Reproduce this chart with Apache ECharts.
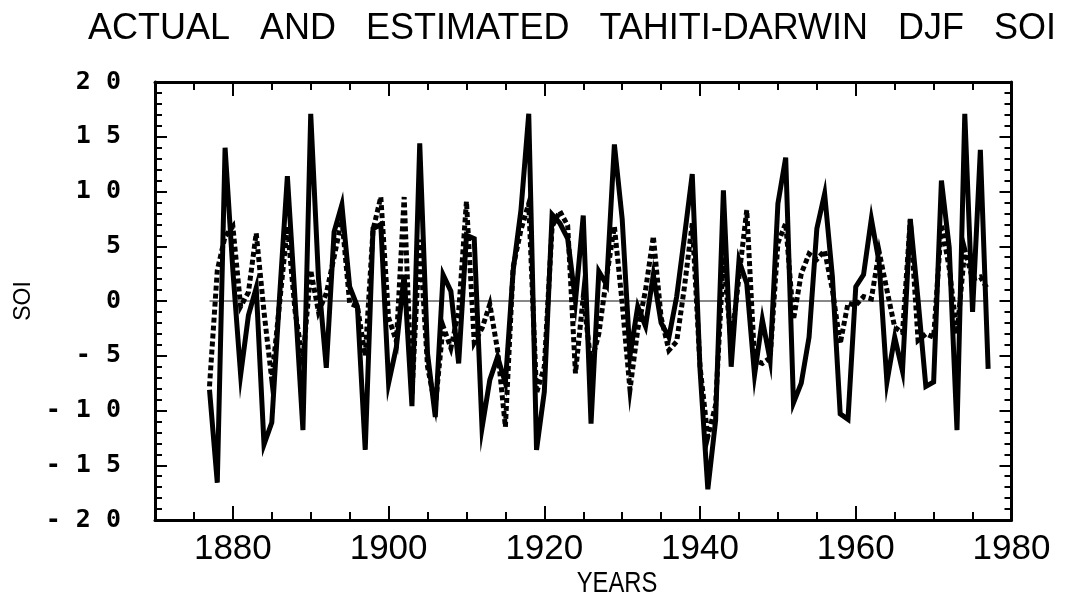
<!DOCTYPE html>
<html>
<head>
<meta charset="utf-8">
<script src="https://cdn.jsdelivr.net/npm/echarts@6/dist/echarts.min.js"></script>
<style>
html,body{margin:0;padding:0;background:#fff;}
#chart{width:1075px;height:599px;}
</style>
</head>
<body>
<div id="chart"></div>
<script>
const titleText = 'ACTUAL   AND   ESTIMATED   TAHITI-DARWIN   DJF   SOI';
const xAxisName = 'YEARS';
const yAxisName = 'SOI';

const years = [
  1877,1878,1879,1880,1881,1882,1883,1884,1885,1886,1887,1888,1889,
  1890,1891,1892,1893,1894,1895,1896,1897,1898,1899,1900,1901,1902,1903,
  1904,1905,1906,1907,1908,1909,1910,1911,1912,1913,1914,1915,1916,1917,1918,1919,
  1920,1921,1922,1923,1924,1925,1926,1927,1928,1929,1930,1931,1932,1933,1934,1935,
  1936,1937,1938,1939,1940,1941,1942,
  1943,1944,1945,1946,1947,1948,1949,1950,1951,1952,1953,1954,1955,1956,1957,1958,
  1959,1960,1961,1962,1963,1964,1965,1966,1967,1968,1969,1970,1971,1972,1973,1974,
  1975,1976,1977
];

const actualSOI = [
  -8.1,-16.6,14.0,2.8,-6.75,-1.3,1.2,-13.1,-11.1,0.4,11.4,0.0,-11.8,
  17.1,2.0,-6.1,6.3,8.8,1.3,-0.5,-13.6,6.6,7.0,-7.5,-4.2,2.4,-9.6,
  14.4,-4.8,-10.6,2.4,0.9,-5.7,6.0,5.7,-11.6,-7.2,-5.1,-7.5,2.8,8.3,17.1,-13.6,
  -8.3,7.9,7.1,5.7,0.0,7.8,-11.2,2.7,1.5,14.3,7.5,-5.0,-0.5,-2.3,2.4,-2.0,
  -3.3,0.4,5.9,11.6,-6.3,-17.2,-10.9,
  10.1,-6.0,3.7,1.6,-6.75,-1.7,-5.4,8.9,13.1,-9.3,-7.5,-3.3,6.6,9.8,2.2,-10.3,
  -10.8,1.3,2.4,7.5,3.5,-7.4,-3.3,-6.4,7.5,0.1,-7.8,-7.4,11.0,4.9,-11.8,17.1,
  -1.0,13.8,-6.2
];

const estimatedSOI = [
  -7.8,2.8,5.9,6.8,-0.5,0.8,6.2,-1.0,-7.2,-0.2,6.8,-1.0,-5.4,
  2.8,-1.0,0.7,4.0,7.5,-0.2,-0.5,-5.0,6.5,9.5,-1.5,-3.7,9.5,-8.5,
  5.6,-6.0,-9.6,-2.3,-4.3,-1.0,9.1,-3.8,-2.5,-0.3,-4.5,-11.5,3.1,6.5,8.9,-8.4,
  -6.0,6.8,8.2,6.9,-6.6,0.4,-5.7,-3.0,2.2,6.8,-0.2,-8.1,-2.6,1.0,5.9,-1.5,
  -4.5,-3.7,1.3,7.1,-6.0,-12.4,-9.5,
  4.0,-3.9,2.2,8.3,-5.4,-5.7,-5.2,5.3,7.1,-1.7,2.5,4.3,3.8,4.6,1.0,-3.9,
  -0.2,-0.4,0.4,0.2,4.5,1.0,-2.4,-2.9,7.4,-3.6,-3.0,-3.3,7.0,3.0,-3.0,4.7,
  2.0,2.2,1.0
];

const xMin = 1870, xMax = 1980, xMinorStep = 5;
const xLabelStart = 1880, xMajorStep = 20;
const yMin = -20, yMax = 20, yStep = 5;

const chart = echarts.init(document.getElementById('chart'), null, {renderer: 'canvas'});

const plot = {left: 155, top: 82, width: 856.5, height: 438};
const pxPerYear = plot.width / (xMax - xMin);
const majorLeft = plot.left + (xLabelStart - xMin) * pxPerYear;
const majorGrid = {left: majorLeft, top: plot.top, width: plot.left + plot.width - majorLeft, height: plot.height};

const lineCol = '#000';
const baseX = {
  type: 'value', min: xMin, max: xMax, interval: xMinorStep,
  axisLine: {show: true, onZero: false, lineStyle: {color: lineCol, width: 3}},
  axisTick: {show: true, inside: true, length: 8, lineStyle: {color: lineCol, width: 2}},
  axisLabel: {show: false},
  splitLine: {show: false}
};
const majorX = {
  type: 'value', min: xLabelStart, max: xMax, interval: xMajorStep,
  axisLine: {show: false, onZero: false},
  axisTick: {show: true, inside: true, length: 14, lineStyle: {color: lineCol, width: 2}},
  splitLine: {show: false}
};
const baseY = {
  type: 'value', min: yMin, max: yMax, interval: yStep,
  axisLine: {show: true, onZero: false, lineStyle: {color: lineCol, width: 3}},
  axisTick: {show: true, inside: true, length: 12, lineStyle: {color: lineCol, width: 2}},
  minorTick: {show: true, splitNumber: 5, length: 7, lineStyle: {color: lineCol, width: 2}},
  splitLine: {show: false}
};

const option = {
  animation: false,
  backgroundColor: '#fff',
  title: {
    text: titleText, left: 83, top: 6,
    textStyle: {fontFamily: '"Liberation Sans", Arial, sans-serif', fontSize: 36, fontWeight: 'normal', color: '#000'}
  },
  grid: [
    Object.assign({}, plot),
    Object.assign({}, plot),
    Object.assign({}, majorGrid),
    Object.assign({}, majorGrid)
  ],
  xAxis: [
    Object.assign({}, baseX, {gridIndex: 0, position: 'bottom'}),
    Object.assign({}, baseX, {gridIndex: 1, position: 'top'}),
    Object.assign({}, majorX, {gridIndex: 2, position: 'bottom',
      axisLabel: {show: true, margin: 12, color: '#000', fontSize: 35,
        fontFamily: '"Liberation Sans", Arial, sans-serif',
        formatter: v => String(v)}}),
    Object.assign({}, majorX, {gridIndex: 3, position: 'top', axisLabel: {show: false}})
  ],
  yAxis: [
    Object.assign({}, baseY, {gridIndex: 0, position: 'left',
      name: yAxisName, nameLocation: 'middle', nameRotate: 90, nameGap: 120,
      nameTextStyle: {fontFamily: '"Liberation Sans", Arial, sans-serif', fontSize: 23, color: '#000'},
      axisLabel: {show: true, margin: 34, color: '#000', fontSize: 25, fontWeight: 'bold',
        fontFamily: '"DejaVu Sans Mono", monospace',
        formatter: v => String(v).split('').join(' ')}}),
    Object.assign({}, baseY, {gridIndex: 1, position: 'right', axisLabel: {show: false}}),
    {type: 'value', gridIndex: 2, min: yMin, max: yMax, show: false},
    {type: 'value', gridIndex: 3, min: yMin, max: yMax, show: false}
  ],
  graphic: [{
    type: 'text', x: 617, y: 584, scaleX: 0.82, originX: 0, originY: 0,
    style: {text: xAxisName, fill: '#000', font: '29px "Liberation Sans", Arial, sans-serif',
      textAlign: 'center', textVerticalAlign: 'middle'}
  }],
  series: [
    {
      name: 'zero', type: 'line', xAxisIndex: 0, yAxisIndex: 0, showSymbol: false, silent: true,
      data: [[years[0], 0], [years[years.length - 1], 0]],
      lineStyle: {color: '#111', width: 1}
    },
    {
      name: 'Estimated', type: 'line', xAxisIndex: 0, yAxisIndex: 0, showSymbol: false,
      data: years.map((y, i) => [y, estimatedSOI[i]]),
      lineStyle: {color: '#000', width: 5, type: [5, 3], cap: 'butt', join: 'miter', miterLimit: 10}
    },
    {
      name: 'Actual', type: 'line', xAxisIndex: 0, yAxisIndex: 0, showSymbol: false,
      data: years.map((y, i) => [y, actualSOI[i]]),
      lineStyle: {color: '#000', width: 5, type: 'solid', join: 'miter', miterLimit: 10}
    }
  ]
};
chart.setOption(option);
</script>
</body>
</html>
